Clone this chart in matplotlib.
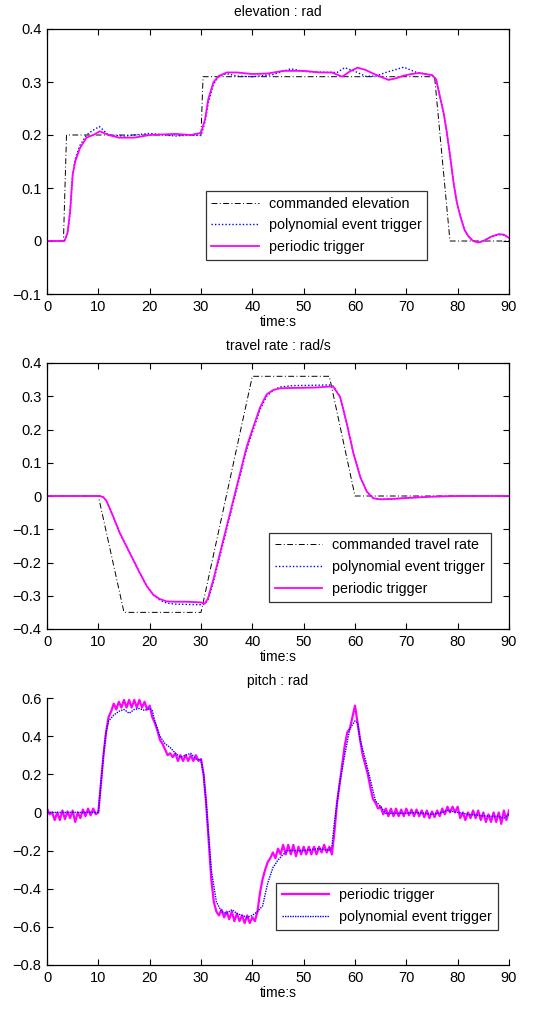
import numpy as np
import matplotlib
matplotlib.use("Agg")
import matplotlib.pyplot as plt

plt.rcParams['font.family'] = ['Liberation Sans', 'DejaVu Sans']
plt.rcParams['font.size'] = 10

# ---------------- elevation ----------------
elev_cmd_t = [0, 3.2, 3.8, 30.0, 30.4, 75.5, 78.5, 90]
elev_cmd_y = [0, 0, 0.2, 0.2, 0.31, 0.31, 0.0, 0.0]

elev_per_t = [0, 3.4, 4.0, 4.5, 5.0, 5.5, 6.4, 7.7, 9.0, 10.3, 12, 14, 17, 20, 25, 28, 30, 30.8, 31.4, 32.4,
              33.4, 35, 37, 40, 43, 46, 50, 53, 55.5, 57.5, 59, 60.5, 62, 63.5, 65, 66.5, 68, 69.5, 71, 72.5,
              75, 75.8, 76.6, 77.3, 77.9, 78.6, 79.2, 79.8, 80.5, 81.3, 82, 83, 84, 85, 86.5, 88, 89, 90]
elev_per_y = [0, 0, 0.015, 0.055, 0.125, 0.15, 0.175, 0.195, 0.2, 0.207, 0.2, 0.195, 0.195, 0.2, 0.202, 0.2,
              0.204, 0.23, 0.267, 0.299, 0.311, 0.318, 0.318, 0.315, 0.316, 0.321, 0.321, 0.318, 0.318, 0.31,
              0.32, 0.327, 0.323, 0.316, 0.31, 0.304, 0.307, 0.312, 0.315, 0.317, 0.313, 0.305, 0.27, 0.24,
              0.204, 0.155, 0.11, 0.075, 0.047, 0.022, 0.01, 0.0, -0.003, 0.0, 0.008, 0.013, 0.012, 0.006]

elev_poly_t = [0, 3.4, 4.0, 4.5, 5.0, 5.5, 6.4, 7.7, 8.8, 10.2, 12, 15, 20, 25, 28, 30, 30.8, 31.4, 32.4, 33.4,
               35, 37, 40, 44, 47.5, 50, 55, 56.5, 58, 60, 62, 64, 66, 69.5, 72, 75, 75.8, 76.6, 77.3, 77.9,
               78.6, 79.2, 79.8, 80.5, 81.3, 82, 83, 84, 85, 86.5, 88, 89, 90]
elev_poly_y = [0, 0, 0.015, 0.055, 0.125, 0.155, 0.18, 0.2, 0.208, 0.216, 0.2, 0.198, 0.203, 0.198, 0.2, 0.199,
               0.225, 0.26, 0.295, 0.31, 0.316, 0.311, 0.31, 0.314, 0.325, 0.32, 0.318, 0.318, 0.327, 0.32,
               0.311, 0.311, 0.318, 0.328, 0.318, 0.313, 0.305, 0.27, 0.24, 0.204, 0.155, 0.11, 0.075, 0.047,
               0.022, 0.01, 0.0, -0.003, 0.0, 0.008, 0.012, 0.011, 0.006]

# ---------------- travel rate ----------------
trav_cmd_t = [0, 10, 15, 30, 40, 55, 60, 90]
trav_cmd_y = [0, 0, -0.35, -0.35, 0.36, 0.36, 0, 0]

trav_per_t = [0, 10.3, 11.0, 11.6, 12.9, 14.2, 15.5, 16.8, 18.1, 19.4, 20.7, 22.0, 23.3, 25, 27, 30, 30.7,
              31.3, 32.4, 33.7, 35.0, 36.3, 37.6, 38.9, 40.2, 41.5, 42.8, 44.1, 45.4, 48, 52, 55, 55.8, 57.1,
              58.4, 59.7, 61.0, 62.3, 63.6, 64.9, 67, 70, 75, 80, 90]
trav_per_y = [0, 0, -0.004, -0.015, -0.062, -0.112, -0.152, -0.192, -0.232, -0.27, -0.297, -0.31, -0.317,
              -0.318, -0.318, -0.32, -0.324, -0.31, -0.252, -0.172, -0.092, -0.012, 0.068, 0.148, 0.208,
              0.266, 0.306, 0.319, 0.324, 0.325, 0.326, 0.329, 0.328, 0.298, 0.218, 0.128, 0.058, 0.013,
              -0.007, -0.01, -0.009, -0.006, -0.002, 0.0, 0.0]

trav_poly_t = [0, 10.3, 11.0, 11.6, 12.9, 14.2, 15.5, 16.8, 18.1, 19.4, 20.7, 22.0, 23.3, 25, 27, 30, 30.7,
               31.3, 32.4, 33.7, 35.0, 36.3, 37.6, 38.9, 40.2, 41.5, 42.8, 44.1, 45.4, 48, 52, 55, 55.8, 57.1,
               58.4, 59.7, 61.0, 62.3, 63.6, 64.9, 67, 70, 75, 80, 90]
trav_poly_y = [0, 0, -0.004, -0.015, -0.062, -0.112, -0.152, -0.192, -0.232, -0.27, -0.298, -0.313, -0.322,
               -0.325, -0.326, -0.327, -0.324, -0.315, -0.26, -0.18, -0.1, -0.02, 0.06, 0.14, 0.2, 0.26, 0.3,
               0.318, 0.328, 0.332, 0.333, 0.334, 0.33, 0.298, 0.218, 0.128, 0.058, 0.013, -0.007, -0.01,
               -0.009, -0.006, -0.002, 0.0, 0.0]

# ---------------- pitch ----------------
pitch_per_t = np.arange(0, 90.25, 0.5)
pitch_per_y = [
    0.02, -0.01, 0.0, -0.04, 0.0, -0.04, 0.01, -0.035, 0.005, -0.03,
    0.01, -0.05, 0.0, -0.03, 0.015, -0.02, 0.02, -0.015, 0.02, -0.01,
    0.0, 0.15, 0.3, 0.42, 0.5, 0.53, 0.57, 0.54, 0.58, 0.55,
    0.59, 0.55, 0.59, 0.55, 0.59, 0.55, 0.59, 0.55, 0.58, 0.54,
    0.56, 0.5, 0.47, 0.43, 0.38, 0.36, 0.33, 0.3, 0.31, 0.29,
    0.31, 0.27, 0.3, 0.27, 0.3, 0.27, 0.3, 0.27, 0.3, 0.27,
    0.28, 0.2, 0.05, -0.15, -0.35, -0.47, -0.52, -0.54, -0.51, -0.55,
    -0.52, -0.56, -0.52, -0.57, -0.53, -0.57, -0.54, -0.58, -0.54, -0.58,
    -0.55, -0.57, -0.52, -0.42, -0.35, -0.3, -0.26, -0.24, -0.21, -0.24,
    -0.19, -0.22, -0.17, -0.22, -0.17, -0.22, -0.17, -0.23, -0.18, -0.22,
    -0.18, -0.22, -0.18, -0.22, -0.18, -0.22, -0.18, -0.21, -0.17, -0.21,
    -0.18, -0.22, -0.1, 0.05, 0.15, 0.25, 0.35, 0.42, 0.44, 0.5,
    0.56, 0.47, 0.38, 0.3, 0.25, 0.2, 0.13, 0.07, 0.05, 0.02,
    0.03, -0.01, 0.02, -0.02, 0.02, -0.02, 0.02, -0.02, 0.015, -0.02,
    0.02, -0.015, 0.015, -0.02, 0.015, -0.02, 0.01, -0.025, 0.01, -0.03,
    0.005, -0.025, 0.01, -0.02, 0.02, -0.01, 0.03, 0.0, 0.03, 0.0,
    0.03, -0.03, 0.0, -0.04, 0.0, -0.03, 0.01, -0.03, 0.01, -0.04,
    0.0, -0.05, -0.01, -0.05, 0.0, -0.05, 0.0, -0.06, 0.01, -0.04,
    0.01]

pitch_poly_t = [0, 10, 10.5, 11, 11.5, 12, 13, 14, 15, 16, 17, 18, 19, 20, 20.5, 21, 22, 23, 24, 25, 26, 27,
                28, 29, 30, 30.5, 31, 32, 33, 34, 35, 36, 37, 38, 39, 40, 41, 42, 43, 44, 45, 46, 47, 50, 53,
                55, 55.5, 56, 57, 58, 59, 60, 60.5, 61, 62, 63, 64, 65, 66, 68, 70, 72, 75, 77, 78, 80, 82, 84,
                86, 88, 89, 90]
pitch_poly_y = [0, 0, 0.15, 0.3, 0.42, 0.48, 0.51, 0.53, 0.54, 0.52, 0.54, 0.545, 0.535, 0.545, 0.535, 0.48,
                0.4, 0.36, 0.34, 0.31, 0.29, 0.3, 0.31, 0.28, 0.275, 0.2, 0.05, -0.3, -0.47, -0.52, -0.53,
                -0.51, -0.53, -0.54, -0.55, -0.54, -0.52, -0.49, -0.37, -0.29, -0.25, -0.22, -0.2, -0.2, -0.19,
                -0.2, -0.18, -0.05, 0.15, 0.3, 0.44, 0.48, 0.47, 0.38, 0.28, 0.17, 0.06, 0.03, -0.005, -0.005,
                -0.005, 0.0, -0.01, 0.0, 0.01, 0.0, -0.01, -0.015, -0.02, -0.02, -0.03, -0.01]

xticks = [0, 10, 20, 30, 40, 50, 60, 70, 80, 90]
elev_yticks = [-0.1, 0, 0.1, 0.2, 0.3, 0.4]
elev_ylabels = ['\u22120.1', '0', '0.1', '0.2', '0.3', '0.4']
trav_yticks = [-0.4, -0.3, -0.2, -0.1, 0, 0.1, 0.2, 0.3, 0.4]
trav_ylabels = ['\u22120.4', '\u22120.3', '\u22120.2', '\u22120.1', '0', '0.1', '0.2', '0.3', '0.4']
pitch_yticks = [-0.8, -0.6, -0.4, -0.2, 0, 0.2, 0.4, 0.6]
pitch_ylabels = ['\u22120.8', '\u22120.6', '\u22120.4', '\u22120.2', '0', '0.2', '0.4', '0.6']

W, H = 548, 1009
fig = plt.figure(figsize=(W / 100, H / 100), dpi=100)


def make_ax(top_px, bottom_px, box=True):
    ax = fig.add_axes([47 / W, 1 - bottom_px / H, 462 / W, (bottom_px - top_px) / H])
    ax.set_xlim(0, 90)
    ax.set_xticks(xticks)
    ax.set_xticklabels([str(v) for v in xticks])
    ax.tick_params(direction='in', length=4, width=0.8, top=box, right=box, labelsize=10.5, pad=4)
    for s in ax.spines.values():
        s.set_linewidth(0.9)
    if not box:
        ax.spines['top'].set_visible(False)
        ax.spines['right'].set_visible(False)
    ax.set_xlabel('time:s', fontsize=10, labelpad=1)
    return ax


legend_kw = dict(frameon=True, fancybox=False, edgecolor='black', fontsize=10.3, handlelength=3.3,
                 borderpad=0.4, labelspacing=0.55, handletextpad=0.7, borderaxespad=0)

# plot 1
ax1 = make_ax(29, 294)
ax1.plot(elev_cmd_t, elev_cmd_y, color='black', linestyle=(0, (6, 2.5, 1, 2.5)), lw=0.7,
         label='commanded elevation')
ax1.plot(elev_poly_t, elev_poly_y, color='blue', linestyle=(0, (1, 1.5)), lw=1.0,
         label='polynomial event trigger')
ax1.plot(elev_per_t, elev_per_y, color='#ff00ff', lw=1.3, label='periodic trigger')
ax1.set_ylim(-0.1, 0.4)
ax1.set_yticks(elev_yticks)
ax1.set_yticklabels(elev_ylabels)
ax1.set_title('elevation : rad', fontsize=10, pad=9)
lg = ax1.legend(loc='lower right', bbox_to_anchor=(0.823, 0.128), **legend_kw)
lg.get_frame().set_linewidth(0.9)

# plot 2
ax2 = make_ax(363, 629)
ax2.plot(trav_cmd_t, trav_cmd_y, color='black', linestyle=(0, (6, 2.5, 1, 2.5)), lw=0.7,
         label='commanded travel rate')
ax2.plot(trav_poly_t, trav_poly_y, color='blue', linestyle=(0, (1, 1.5)), lw=1.0,
         label='polynomial event trigger')
ax2.plot(trav_per_t, trav_per_y, color='#ff00ff', lw=1.3, label='periodic trigger')
ax2.set_ylim(-0.4, 0.4)
ax2.set_yticks(trav_yticks)
ax2.set_yticklabels(trav_ylabels)
ax2.set_title('travel rate : rad/s', fontsize=10, pad=9)
lg = ax2.legend(loc='lower right', bbox_to_anchor=(0.961, 0.102), **legend_kw)
lg.get_frame().set_linewidth(0.9)

# plot 3
ax3 = make_ax(698, 965, box=False)
ax3.plot(pitch_per_t, pitch_per_y, color='#ff00ff', lw=1.6, label='periodic trigger')
ax3.plot(pitch_poly_t, pitch_poly_y, color='blue', linestyle=(0, (1, 0.8)), lw=1.0,
         label='polynomial event trigger')
ax3.set_ylim(-0.8, 0.6)
ax3.set_yticks(pitch_yticks)
ax3.set_yticklabels(pitch_ylabels)
ax3.set_title('pitch : rad', fontsize=10, pad=9)
lg = ax3.legend(loc='lower right', bbox_to_anchor=(0.976, 0.131), **legend_kw)
lg.get_frame().set_linewidth(0.9)

fig.savefig('out.png', dpi=100)
